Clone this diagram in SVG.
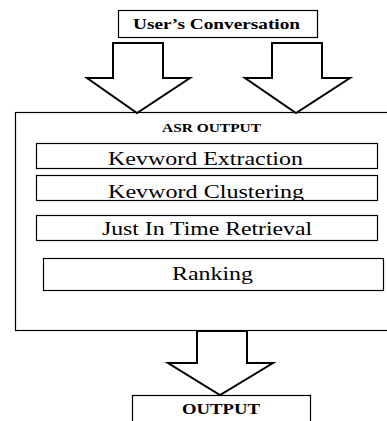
<svg xmlns="http://www.w3.org/2000/svg" width="387" height="421" viewBox="0 0 387 421">
<style>
.box{fill:#fff;stroke:#000;stroke-width:1.2}
.arr{fill:#fff;stroke:#000;stroke-width:2;stroke-linejoin:miter}
.b{font-weight:bold;fill:#000;text-anchor:middle}
.t{fill:#000;text-anchor:middle;font-size:19px}
</style>
<defs>
<clipPath id="clipClu"><rect x="36" y="175" width="342" height="25"/></clipPath>
</defs>
<rect width="387" height="421" fill="#fff"/>
<g font-family="'Liberation Serif', 'DejaVu Serif', serif">
<g id="users-conversation">
<rect class="box" x="118.5" y="10.5" width="199" height="27"/>
<text class="b" x="216.5" y="28.5" font-size="14" textLength="167" lengthAdjust="spacingAndGlyphs">User’s Conversation</text>
</g>
<g id="asr-output">
<rect class="box" x="15.5" y="112.5" width="380" height="218"/>
<text class="b" x="211.5" y="132" font-size="12.5" textLength="99" lengthAdjust="spacingAndGlyphs">ASR OUTPUT</text>
</g>
<g id="keyword-extraction">
<rect class="box" x="36.5" y="143.5" width="341" height="25"/>
<text class="t" x="205.5" y="165" textLength="195" lengthAdjust="spacingAndGlyphs">Kevword Extraction</text>
</g>
<g id="keyword-clustering">
<rect class="box" x="36.5" y="175.5" width="341" height="25"/>
<text class="t" x="206" y="198" textLength="196" lengthAdjust="spacingAndGlyphs" clip-path="url(#clipClu)">Kevword Clustering</text>
</g>
<g id="jit-retrieval">
<rect class="box" x="36.5" y="215.5" width="341" height="25"/>
<text class="t" x="207" y="235" textLength="210" lengthAdjust="spacingAndGlyphs">Just In Time Retrieval</text>
</g>
<g id="ranking">
<rect class="box" x="43.5" y="258.5" width="340" height="32"/>
<text class="t" x="212.5" y="280" textLength="81" lengthAdjust="spacingAndGlyphs">Ranking</text>
</g>
<g id="output">
<rect class="box" x="132.5" y="395.5" width="178" height="40"/>
<text class="b" x="221" y="414" font-size="15.5" textLength="78" lengthAdjust="spacingAndGlyphs">OUTPUT</text>
</g>
</g>
<g id="connectors">
<polygon class="arr" points="113,43 163,43 163,78 190,78 137,113 87,78 113,78"/>
<polygon class="arr" points="272,43 322,43 322,78 350,78 296,113 245,78 272,78"/>
<polygon class="arr" points="197,331 247,331 247,363 273,363 220,395 168,363 197,363"/>
</g>
</svg>
